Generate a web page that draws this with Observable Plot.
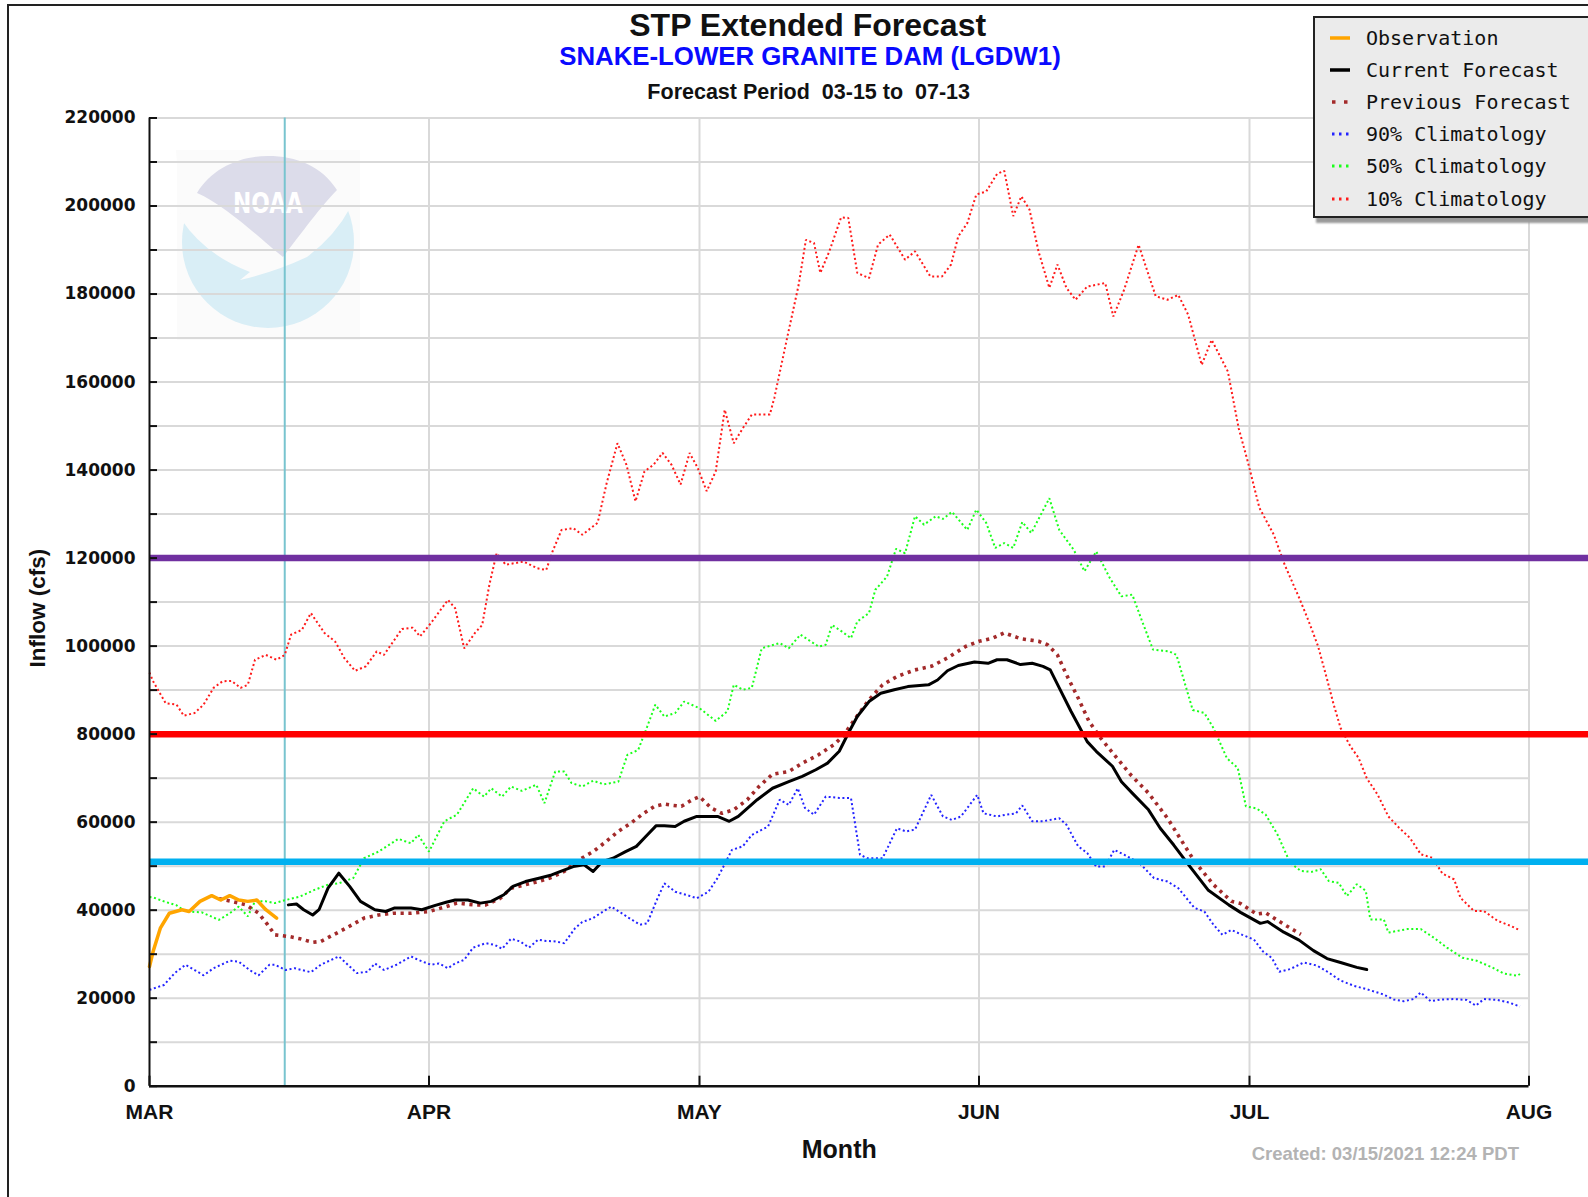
<!DOCTYPE html>
<html>
<head>
<meta charset="utf-8">
<script src="https://cdn.jsdelivr.net/npm/d3@7"></script>
<script src="https://cdn.jsdelivr.net/npm/@observablehq/plot@0.6"></script>
<style>
  body { margin: 0; background: #fff; }
  #page { position: relative; width: 1588px; height: 1197px; overflow: hidden; background: #fff;
          font-family: "Liberation Sans", Arial, sans-serif; }
  #border { position: absolute; left: 7px; top: 4px; width: 1700px; height: 1300px;
            border-left: 2px solid #222; border-top: 2px solid #222; }
  #logo { position: absolute; left: 0; top: 0; z-index: 0; }
  .t { position: absolute; white-space: pre; line-height: 1; transform: translateX(-50%); font-weight: bold; z-index: 3; }
  #chart { position: absolute; left: 0; top: 100px; z-index: 1; }
  #legend { position: absolute; left: 1313px; top: 16px; width: 300px; height: 198px;
            background: #ebebeb; border: 2px solid #222; box-shadow: 3px 5px 2px #9a9a9a; z-index: 4; }
  .row { position: absolute; left: 0; height: 20px; line-height: 20px; white-space: pre;
         font-family: "DejaVu Sans Mono", monospace; font-size: 20px; color: #111; }
  .row svg { position: absolute; left: 15px; top: 5px; }
  .row span { position: absolute; left: 51px; top: 0; }
  #created { position: absolute; right: 69px; top: 1144.5px; line-height: 1; font-size: 18.5px;
             font-weight: bold; color: #b3b3b3; white-space: pre; z-index: 3; }
</style>
</head>
<body>
<div id="page">
  <div id="border"></div>
  <svg id="logo" width="400" height="400">
    <rect x="177" y="150" width="183" height="190" fill="#fbfbfb"/>
    <circle cx="268" cy="242" r="86" fill="#d9eef6"/>
    <path d="M176,150 L181,219 Q205,255 250,272 L240,280 Q275,272 307,257 Q335,236 350,208 L358,150 Z" fill="#fbfbfb"/>
    <path d="M197,193 C212,168 240,156 268,156 C296,156 322,166 337,190 C322,205 300,235 283,257 C262,240 225,205 197,193 Z" fill="#dcdcea"/>
    <text x="268" y="213" text-anchor="middle" font-family="DejaVu Sans" font-weight="bold" font-size="28" fill="#ffffff" textLength="70" lengthAdjust="spacingAndGlyphs">NOAA</text>
  </svg>
  <div class="t" style="left:807.7px; top:8.7px; font-size:32px; color:#111;">STP Extended Forecast</div>
  <div class="t" style="left:810px; top:44px; font-size:25.8px; color:#0a0aff;">SNAKE-LOWER GRANITE DAM (LGDW1)</div>
  <div class="t" style="left:808.7px; top:81.7px; font-size:21.5px; color:#111;">Forecast Period  03-15 to  07-13</div>
  <div id="chart"></div>
  <div id="legend"></div>
  <div id="created">Created: 03/15/2021 12:24 PDT</div>
</div>
<script>
// ---------- data (day = days since 2021-03-01, flow in cfs) ----------
const observation = [[0,27200],[0.4,30600],[1.2,35900],[2.2,39300],[3.6,40100],[4.4,39700],[5.6,42000],[6.9,43300],[7.9,42300],[8.9,43300],[9.9,42300],[10.9,42000],[11.9,42300],[12.9,40100],[14.1,38200]];

const currentForecast = [[15.4,41200],[16.3,41400],[17.1,40100],[18.1,38900],[18.8,40100],[19.8,45000],[21,48400],[22.2,45400],[23.4,42000],[25,40100],[26.2,39700],[27.2,40500],[29,40500],[30.2,40100],[31.7,41100],[32.9,41800],[33.9,42300],[35.3,42300],[36.7,41600],[37.9,42000],[39.3,43500],[40.3,45400],[41.7,46500],[43.3,47300],[44.6,48000],[45.6,48800],[47,49900],[48.2,50300],[49.2,48800],[50.2,51000],[51.4,51800],[52.8,53300],[54,54500],[55.2,57100],[56.2,59200],[57.1,59200],[58.3,59000],[59.3,60200],[60.7,61300],[63,61300],[64.3,60200],[65.3,61300],[67.4,65100],[69.1,67700],[70.9,69200],[72.4,70400],[73.9,71900],[75.2,73400],[76.5,76100],[77.5,80200],[78.5,84000],[79.8,87400],[81.1,89300],[82.6,90100],[84.1,90800],[86.4,91200],[87.4,92300],[88.5,94400],[89.7,95600],[91.5,96400],[93,96100],[94,96900],[95.1,96900],[96.6,95800],[97.9,96100],[99.1,95400],[99.9,94600],[100.9,90500],[102.2,85200],[103.2,81400],[104,78300],[105,76100],[106.8,72700],[107.8,69200],[109,66600],[110.8,62800],[112.1,58600],[113.6,54800],[115.4,49900],[117.4,44600],[119.7,41200],[121,39500],[123.2,37000],[124,37400],[125.8,35000],[127.5,33200],[129.1,30800],[130.6,29000],[132.1,28100],[133.9,27000],[135,26500]];

const previousForecast = [[7.7,42600],[9.1,42000],[10.7,41200],[12.1,39300],[13.1,36700],[13.9,34400],[15.5,34000],[16.7,33500],[18.1,32700],[19,32900],[20.4,34400],[21.8,35900],[23.8,38200],[25.4,38900],[27,39300],[29,39300],[31,39700],[32.9,40800],[34.1,41600],[36.1,41200],[37.3,41200],[38.9,42700],[40.1,45000],[41.7,45800],[43.1,46500],[44.4,47300],[46,48800],[47.6,51400],[49.2,53300],[50.4,55200],[52,57900],[53.4,59800],[54.8,62000],[56,63600],[57.1,64100],[58.1,63800],[59,63600],[60.2,65100],[61,65800],[62.3,63200],[63.5,62000],[64.8,62800],[66.3,65100],[67.6,68100],[69.1,70900],[70.9,71500],[72.4,73400],[74.2,75300],[75.9,77600],[76.9,79500],[78.3,83600],[79.8,87800],[81.3,91200],[82.9,93100],[84.9,94600],[86.7,95400],[88.5,97300],[90.5,99900],[92,101100],[93.5,101800],[94.8,103000],[96.6,101700],[98.6,101100],[99.6,100300],[100.7,98000],[101.7,93500],[103,88200],[104.2,82900],[105.5,79100],[107,75300],[108.8,70800],[110.8,66600],[112.9,60900],[114.4,56000],[115.9,51100],[118,45800],[120,42000],[121,41500],[122.8,39100],[123.8,39400],[125.8,36800],[127.7,34500]];

const clim90 = [[0,21900],[1.6,23000],[2.8,25700],[4,27600],[5,26400],[6,25200],[7.1,26800],[8.9,28500],[9.9,28300],[11.1,26400],[12.1,25200],[13.3,27600],[13.9,27600],[15.1,26400],[16.1,26800],[17.9,25900],[19,27600],[21,29500],[22,27600],[23,25700],[24.2,26000],[25,27900],[26,26400],[27.4,27600],[29,29500],[29.8,28700],[31.2,27600],[32.1,27900],[33.1,26800],[33.9,27900],[34.9,28700],[35.9,31500],[37.3,32500],[38.3,32100],[39.1,31200],[40.1,33500],[41.1,32900],[42.1,31500],[43.1,33300],[44,33000],[45,32900],[46,32500],[47.2,35900],[48,37300],[49.2,38200],[50,39300],[51.2,40800],[52,39800],[53.2,38200],[54.4,36700],[55.2,37000],[56.2,42000],[57.1,46100],[58.3,44200],[59.5,43500],[60.7,42700],[62,44200],[63,47300],[64.6,53700],[65.8,54500],[66.8,57100],[68.6,59000],[69.9,65100],[70.9,63900],[71.9,67700],[72.7,63200],[73.7,61700],[75,65800],[76.5,65500],[77.8,65500],[78.8,52600],[79.6,51800],[81.3,51800],[82.9,58600],[83.9,57900],[84.9,58300],[86.7,66200],[88,61300],[89,60500],[90,61300],[91.8,66200],[92.5,62000],[94,61300],[95,61700],[96.1,62000],[96.8,63800],[97.9,60200],[99.1,60200],[100.9,60900],[101.7,59400],[103,54500],[104,53000],[105,49900],[106,49900],[107,53700],[108.1,52600],[109.8,50700],[111.4,47300],[112.9,46500],[114.1,45000],[115.9,40500],[117,39700],[118,36700],[119,34400],[120,35500],[121.2,34400],[122.5,33300],[123.5,30600],[124.5,29100],[125.3,26000],[126.5,26600],[128,28100],[129.5,27400],[130.8,25800],[132.1,24000],[133.6,22800],[134.9,22100],[136.8,20900],[138,19700],[139.1,19300],[140.2,19800],[141,21300],[142.1,19300],[143.2,19700],[144.7,19800],[146.1,19600],[147.1,18300],[148,19800],[149.5,19600],[150.8,19000],[152,18100]];

const clim50 = [[0,43000],[0.4,42900],[1.6,42000],[3,41100],[4,39700],[5.8,39500],[7.7,37800],[8.9,39300],[9.9,40800],[10.9,38600],[11.7,42000],[12.9,42000],[13.9,41600],[15.1,42300],[16.7,43100],[18.3,44600],[19.8,45800],[21,46100],[22.6,47300],[23.8,51800],[25.4,53300],[27.6,56200],[29,55200],[29.8,57100],[31,53300],[32.7,60200],[34.1,61700],[35.9,67700],[37.1,65800],[37.9,67700],[39.1,65800],[40.1,68100],[41.3,67100],[42.9,68500],[43.8,64300],[45,71500],[46,71500],[46.8,68900],[48,68100],[49.2,69400],[50.4,68600],[52,69200],[53,75300],[54.2,76400],[55.2,81700],[56.1,86700],[57.1,84000],[58.3,84800],[59.3,87400],[61,85900],[62.8,83000],[64.1,85200],[64.8,91200],[65.8,90100],[66.8,90500],[67.9,99500],[69.9,100700],[70.9,99500],[72.2,102600],[74.2,99900],[75,100300],[75.7,104800],[76.8,103300],[77.8,101800],[78.5,105600],[79.8,107500],[80.5,112800],[81.8,115800],[82.8,122100],[83.8,121100],[84.9,129500],[85.9,127600],[87.2,129500],[88,128900],[89,130500],[90.7,126400],[91.7,131000],[92.8,128000],[93.8,122300],[94.8,123400],[95.8,122300],[96.8,128200],[97.8,125700],[99.8,133600],[100.9,126400],[102.5,121900],[103.7,117000],[105,121500],[106.5,115500],[107.8,111300],[109,111700],[110.1,105600],[111.3,99200],[113.1,98800],[113.9,98000],[115.7,85500],[117,84800],[118,81400],[119.5,74500],[120.7,72300],[121.6,63600],[122.8,63100],[123.8,61700],[125.1,57200],[126.5,50800],[127.7,48900],[128.9,48700],[129.9,49300],[130.8,46600],[131.9,46200],[132.8,43200],[133.9,45900],[134.9,44400],[135.4,37900],[136.9,37900],[137.4,34900],[139.5,35700],[141,35700],[142.4,33800],[143.9,31500],[145.6,29200],[147.2,28500],[148.9,27000],[150.2,25600],[151.7,25100],[152,25500]];

const clim10 = [[0,94000],[0.4,92000],[1.8,87000],[3,86700],[3.8,84200],[5,84800],[6,86700],[7.1,90500],[8.1,92000],[9.1,92100],[10.1,90500],[10.9,91200],[11.7,96900],[12.9,98000],[14.1,96900],[15,98000],[15.7,102600],[16.9,103700],[17.9,107500],[19.4,103000],[20.6,101000],[21.6,97300],[22.8,94400],[24,95400],[25.2,98800],[26,98000],[28,103900],[29.2,104200],[30,102200],[31.2,105200],[33.1,110500],[33.9,108600],[34.9,99500],[36.1,103000],[36.9,104800],[37.7,114000],[38.5,121100],[39.5,118500],[41.5,119200],[43,117700],[44,117300],[44.7,121500],[45.7,126400],[47,126800],[48,125300],[49.7,128000],[50.7,137000],[51.9,146100],[52.9,141200],[53.9,132900],[54.9,139700],[55.9,141200],[56.9,143900],[57.9,141200],[58.9,136700],[59.9,143900],[60.8,140500],[61.8,135200],[62.8,139700],[63.8,153700],[64.8,146100],[65.8,149500],[66.8,152600],[68.8,152600],[69.3,156400],[70.8,170800],[72,182100],[72.8,192300],[73.7,191600],[74.4,184800],[75.4,189700],[76.7,197400],[77.5,197300],[78.5,184800],[79.8,183600],[80.8,191200],[82.1,193500],[83.8,187800],[84.9,189700],[86.6,184000],[87.9,184000],[88.9,186700],[89.7,193100],[90.7,196100],[91.7,202600],[92.8,203300],[94,207300],[94.8,208000],[95.8,197700],[96.7,202200],[97.6,199200],[98.6,189700],[99.8,181400],[100.7,186700],[101.7,181400],[102.7,178700],[104,181700],[106,182500],[106.9,174900],[108.1,181000],[109.7,191200],[111.6,179500],[112.9,178700],[114.1,179800],[115.2,175300],[116.7,163900],[117.8,169600],[119.6,162400],[120.8,149500],[121.8,142000],[123.1,131400],[124.7,125300],[125.9,118500],[127.5,111000],[128.5,106000],[129.6,100000],[130.6,92500],[131.3,87000],[132.1,81400],[133.2,77200],[134.1,74600],[135,70000],[136.2,66300],[137.4,61300],[138.6,58700],[139.8,56400],[141,52700],[142.3,51900],[143.4,48300],[144.7,47000],[145.4,42800],[146.9,39800],[148,39800],[149.5,37600],[151,36400],[152,35400]];

const thresholdValues = [120000, 80000, 51000];
const forecastStartDay = 15;
const monthTickDays = [0, 31, 61, 92, 122, 153];
const monthLabels = ["MAR", "APR", "MAY", "JUN", "JUL", "AUG"];
const yLabelTicks = [0, 20000, 40000, 60000, 80000, 100000, 120000, 140000, 160000, 180000, 200000, 220000];
const legendNames = ["Observation", "Current Forecast", "Previous Forecast", "90% Climatology", "50% Climatology", "10% Climatology"];

// ---------- helpers ----------
const DAY0 = Date.UTC(2021, 2, 1);
const toDate = d => new Date(DAY0 + d * 864e5);
const rows = arr => arr.map(([d, v]) => ({date: toDate(d), flow: v}));
const monthTicks = monthTickDays.map(toDate);
const xDomain = [monthTicks[0], monthTicks[monthTicks.length - 1]];
const ruleEnd = toDate(161);
const yAllTicks = d3.range(0, 220001, 10000);
const dotted = {strokeLinecap: "butt", strokeLinejoin: "miter"};

const chart = Plot.plot({
  width: 1588,
  height: 1097,
  marginLeft: 149,
  marginRight: 59.5,
  marginTop: 17.5,
  marginBottom: 111.3,
  style: {background: "transparent", fontFamily: "'Liberation Sans', Arial, sans-serif", fontSize: "17px", color: "#111", overflow: "hidden"},
  x: {type: "utc", domain: xDomain, axis: null},
  y: {domain: [0, 220000], axis: null},
  marks: [
    Plot.gridY(yAllTicks.slice(1), {stroke: "#d9d9d9", strokeOpacity: 1, strokeWidth: 2}),
    Plot.gridX(monthTicks.slice(1), {stroke: "#d9d9d9", strokeOpacity: 1, strokeWidth: 2}),
    Plot.ruleX([toDate(forecastStartDay)], {stroke: "#78c4cf", strokeWidth: 2}),
    Plot.line(rows(clim10), {x: "date", y: "flow", stroke: "#ff1a1a", strokeWidth: 2, strokeDasharray: "2,2.6", ...dotted}),
    Plot.line(rows(clim50), {x: "date", y: "flow", stroke: "#1aff1a", strokeWidth: 2, strokeDasharray: "2,2.6", ...dotted}),
    Plot.line(rows(clim90), {x: "date", y: "flow", stroke: "#2323ff", strokeWidth: 2, strokeDasharray: "2,2.6", ...dotted}),
    Plot.line(rows(previousForecast), {x: "date", y: "flow", stroke: "#a32a2a", strokeWidth: 3.6, strokeDasharray: "3.2,4.6", ...dotted}),
    Plot.line(rows(currentForecast), {x: "date", y: "flow", stroke: "#000", strokeWidth: 3}),
    Plot.line(rows(observation), {x: "date", y: "flow", stroke: "#ffa500", strokeWidth: 3.5}),
    Plot.ruleY([thresholdValues[0]], {x1: xDomain[0], x2: ruleEnd, stroke: "#7030a0", strokeWidth: 6.5}),
    Plot.ruleY([thresholdValues[1]], {x1: xDomain[0], x2: ruleEnd, stroke: "#ff0000", strokeWidth: 6.5}),
    Plot.ruleY([thresholdValues[2]], {x1: xDomain[0], x2: ruleEnd, stroke: "#00b0f0", strokeWidth: 6.5}),
    Plot.ruleX([xDomain[0]], {stroke: "#111", strokeWidth: 2}),
    Plot.ruleY([0], {stroke: "#111", strokeWidth: 2.5}),
    Plot.axisY(yAllTicks, {tickSize: 8, dx: 8, tickFormat: () => "", label: null, stroke: "#111", strokeWidth: 2}),
    Plot.axisY(yLabelTicks, {tickSize: 0, tickPadding: 14, tickFormat: d3.format("d"), label: null,
      fontFamily: "DejaVu Sans", fontSize: 17, fontWeight: "bold", fill: "#111"}),
    Plot.axisX(monthTicks, {tickSize: 10, dy: -10, tickFormat: () => "", label: null, stroke: "#111", strokeWidth: 2}),
    Plot.axisX(monthTicks, {tickSize: 0, tickPadding: 18, label: null,
      tickFormat: d => monthLabels[monthTicks.findIndex(t => +t === +d)],
      fontSize: 21, fontWeight: "bold", fill: "#111"}),
    Plot.text(["Month"], {text: d => d, frameAnchor: "bottom", lineAnchor: "middle", textAnchor: "middle", dy: 64, fontSize: 25, fontWeight: "bold", fill: "#111"}),
    Plot.text(["Inflow (cfs)"], {text: d => d, frameAnchor: "left", lineAnchor: "middle", textAnchor: "middle", rotate: -90, dx: -111.4, dy: 6, fontSize: 22.5, fontWeight: "bold", fill: "#111"})
  ]
});
document.getElementById("chart").appendChild(chart);

// ---------- legend ----------
const swatches = [
  '<line x1="0" y1="5" x2="20" y2="5" stroke="#ffa500" stroke-width="3.5"/>',
  '<line x1="0" y1="5" x2="20" y2="5" stroke="#000" stroke-width="3.5"/>',
  '<line x1="2" y1="5" x2="18" y2="5" stroke="#a32a2a" stroke-width="3.5" stroke-dasharray="3.5,8.5"/>',
  '<line x1="2" y1="5" x2="20" y2="5" stroke="#2323ff" stroke-width="3" stroke-dasharray="2.5,4.5"/>',
  '<line x1="2" y1="5" x2="20" y2="5" stroke="#1aff1a" stroke-width="3" stroke-dasharray="2.5,4.5"/>',
  '<line x1="2" y1="5" x2="20" y2="5" stroke="#ff1a1a" stroke-width="3" stroke-dasharray="2.5,4.5"/>'
];
const rowCenters = [19.5, 52, 84, 116, 148, 180.5];
const legend = document.getElementById("legend");
legendNames.forEach((name, i) => {
  const r = document.createElement("div");
  r.className = "row";
  r.style.top = (rowCenters[i] - 9.6) + "px";
  r.style.width = "290px";
  r.innerHTML = `<svg width="22" height="10">${swatches[i]}</svg><span>${name}</span>`;
  legend.appendChild(r);
});
</script>
</body>
</html>
